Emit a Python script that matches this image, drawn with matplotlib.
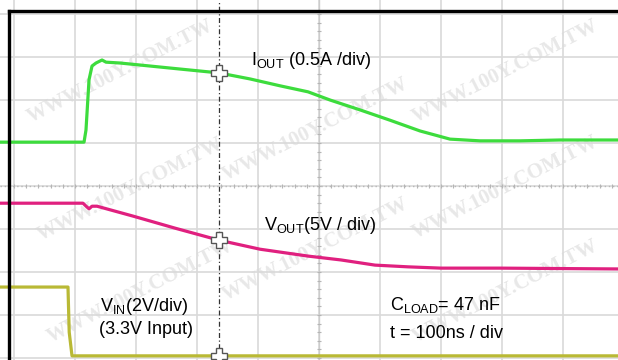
import matplotlib
matplotlib.use("Agg")
import matplotlib.pyplot as plt
import numpy as np

plt.rcParams['font.family'] = ['Liberation Sans', 'DejaVu Sans']
plt.rcParams['mathtext.fontset'] = 'custom'
plt.rcParams['mathtext.rm'] = 'Liberation Sans'
plt.rcParams['mathtext.it'] = 'Liberation Sans:italic'
plt.rcParams['mathtext.bf'] = 'Liberation Sans:bold'

# ---- data (time in ns from left graticule edge, amplitude in screen divisions from bottom) ----
iout_t = [-25, 114.8, 118.0, 123.0, 127.9, 134.4, 144.3, 150.8, 173.8, 223.0, 272.1, 336.1,
          386.9, 436.1, 482.0, 518.0, 567.2, 616.4, 665.6, 714.8, 763.9, 829.5, 895.1, 1000]
iout_v = [5.02, 5.02, 5.30, 6.47, 6.79, 6.86, 6.93, 6.88, 6.86, 6.79, 6.72, 6.63,
          6.49, 6.33, 6.19, 6.00, 5.77, 5.53, 5.28, 5.09, 5.05, 5.05, 5.07, 5.07]

vout_t = [-25, 113.1, 119.7, 123.0, 127.9, 136.1, 195.1, 263.9, 336.1, 403.3, 482.0,
          536.1, 591.8, 645.9, 700.0, 796.7, 1000]
vout_v = [3.60, 3.60, 3.51, 3.47, 3.53, 3.53, 3.30, 3.02, 2.74, 2.53, 2.37,
          2.28, 2.16, 2.12, 2.09, 2.09, 2.07]

vin_t = [-25, 88.5, 90.5, 95.1, 1000]
vin_v = [1.65, 1.65, 0.6, 0.05, 0.05]

cursor_t = 336.1
cursor_marks = [6.63, 2.74, 0.05]

grid_t = [0, 100, 200, 300, 400, 500, 600, 700, 800, 900, 1000]
grid_v = [0, 1, 2, 3, 4, 5, 6, 7, 8]

labels = [
    (251, 65, r"$\mathrm{I}_{\mathrm{OUT}}$ (0.5A /div)"),
    (264, 230, r"$\mathrm{V}_{\mathrm{OUT}}$(5V / div)"),
    (100, 311, r"$\mathrm{V}_{\mathrm{IN}}$(2V/div)"),
    (99, 334, "(3.3V Input)"),
    (390, 310, r"$\mathrm{C}_{\mathrm{LOAD}}$= 47 nF"),
    (390, 338, "t = 100ns / div"),
]

watermarks = [(120, 72), (130, 190), (140, 292), (505, 72), (505, 188), (505, 292),
              (315, 130), (315, 250)]

# ---- figure ----
W, H = 618, 360
fig = plt.figure(figsize=(W / 100, H / 100), dpi=100)
ax = fig.add_axes([0, 0, 1, 1])
px_x = 61 / 100.0   # px per ns
px_y = 43.0         # px per div
x0, y0 = 14, 358
ax.set_xlim((0 - x0) / px_x, (W - x0) / px_x)
ax.set_ylim((y0 - H) / px_y, (y0 - 0) / px_y)
ax.axis('off')

# watermark
for (wx, wy) in watermarks:
    ax.text(wx / W, 1 - wy / H, "WWW.100Y.COM.TW", rotation=27, ha='center', va='center',
            fontsize=15, family='Liberation Serif', weight='bold', color='#e8e8e8',
            zorder=0.5, transform=ax.transAxes)

# graticule
for t in grid_t:
    ax.axvline(t, color='#d9d9d9', lw=1.2, zorder=1)
for v in grid_v:
    ax.axhline(v, color='#d9d9d9', lw=1.2, zorder=1)
# centre axes with ticks
ax.axhline(4, color='#b8b8b8', lw=1.0, ls=(0, (1, 2)), zorder=1.2)
ax.axvline(500, color='#cccccc', lw=1.0, zorder=1.2)
ticks_t = np.arange(0, 1001, 20)
ax.vlines(ticks_t, 4 - 0.05, 4 + 0.05, color='#b5b5b5', lw=0.8, zorder=1.3)
ticks_v = np.arange(0, 8.01, 0.2)
ax.hlines(ticks_v, 500 - 4, 500 + 4, color='#b5b5b5', lw=0.8, zorder=1.3)

# traces
ax.plot(iout_t, iout_v, color='#3ddc3d', lw=2.3, zorder=3, solid_joinstyle='round')
ax.plot(vout_t, vout_v, color='#e0207f', lw=2.3, zorder=3, solid_joinstyle='round')
ax.plot(vin_t, vin_v, color='#b9b935', lw=2.3, zorder=3, solid_joinstyle='round')

# cursor
ax.axvline(cursor_t, color='#333333', lw=0.9, ls=(0, (4, 2, 1, 2)), zorder=4)
ax.plot([cursor_t] * len(cursor_marks), cursor_marks, ls='none', marker='P', ms=11,
        mfc='white', mec='#555555', mew=1.0, zorder=5)

# frame (top and left black border)
bx = (9.5 - x0) / px_x
by = (y0 - 11.3) / px_y
ax.plot([bx, bx], [(y0 - H) / px_y - 1, by], color='black', lw=2.4, zorder=6,
        solid_capstyle='projecting')
ax.plot([bx, (W - x0) / px_x + 10], [by, by], color='black', lw=2.4, zorder=6,
        solid_capstyle='projecting')

# labels
for (lx, ly, s) in labels:
    fig.text(lx / W, 1 - ly / H, s, ha='left', va='baseline', fontsize=13,
             color='black', zorder=7)

fig.savefig('out.png', dpi=100)
